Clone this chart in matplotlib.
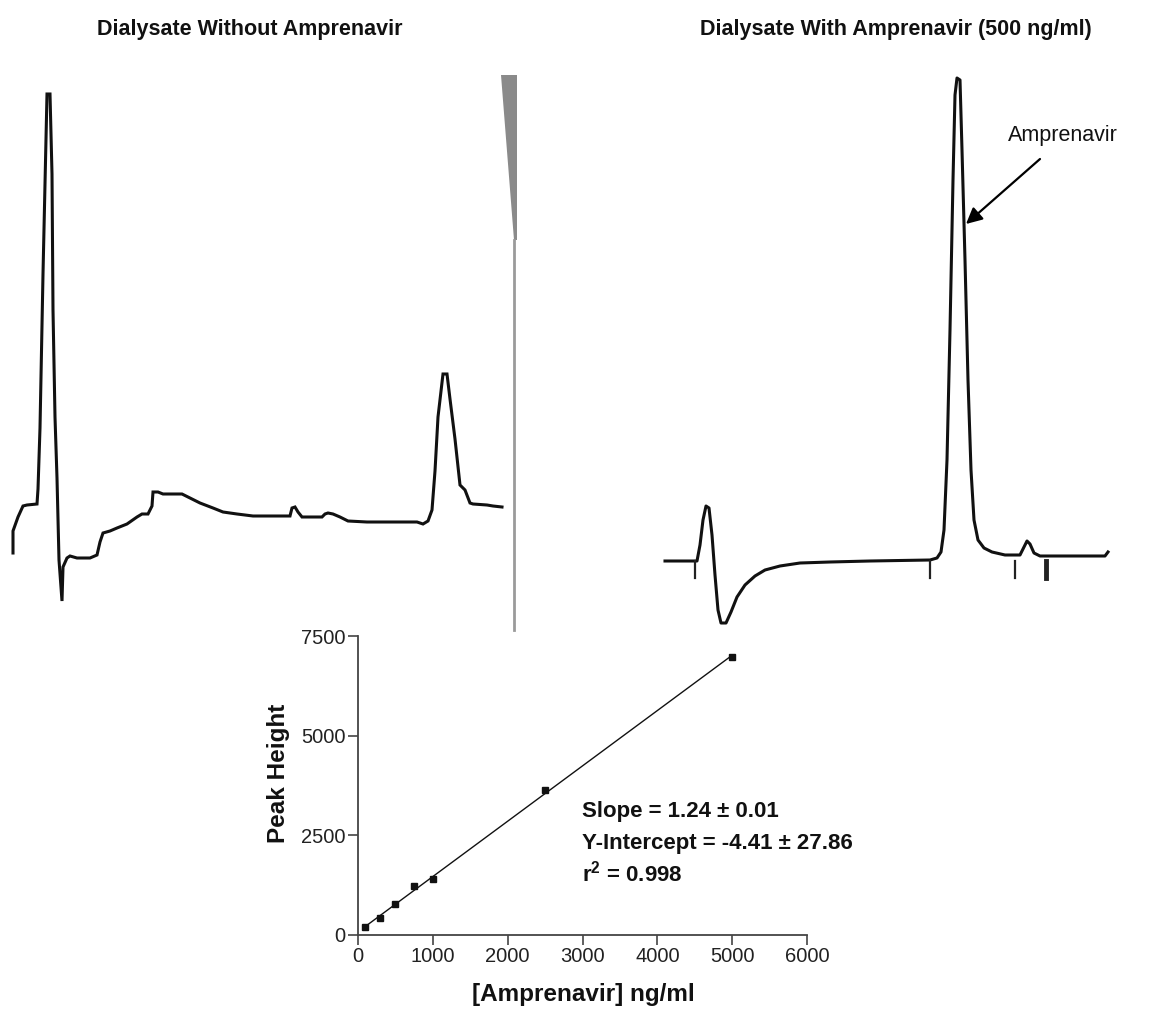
import numpy as np
import matplotlib
matplotlib.use("Agg")
import matplotlib.pyplot as plt

plt.rcParams['font.family'] = ['Liberation Sans', 'DejaVu Sans']
plt.rcParams['mathtext.fontset'] = 'custom'
plt.rcParams['mathtext.rm'] = 'Liberation Sans'
plt.rcParams['mathtext.bf'] = 'Liberation Sans:bold'

# chromatogram without amprenavir (retention position, detector response)
blank_t = [13, 13, 18, 23, 27, 37, 38, 40, 43, 47, 50, 52, 53, 55, 57, 59, 62, 63, 67, 70, 77, 90, 97,
           100, 103, 110, 117, 127, 137, 142, 148, 152, 153, 158, 163, 182, 190, 200, 213, 223, 237, 253,
           290, 292, 295, 298, 302, 322, 325, 328, 333, 340, 348, 367, 417, 423, 428, 432, 435, 438, 443,
           447, 450, 455, 460, 465, 470, 473, 487, 493, 502]
blank_r = [67, 89, 103, 114, 115, 116, 131, 192, 346, 526, 526, 446, 310, 203, 142, 60, 19, 53, 62, 64,
           62, 62, 65, 78, 87, 89, 92, 96, 103, 106, 106, 114, 128, 128, 126, 126, 122, 117, 112, 108,
           106, 104, 104, 112, 113, 108, 103, 103, 106, 107, 106, 103, 99, 98, 98, 96, 99, 110, 149, 203,
           246, 246, 221, 181, 135, 130, 117, 116, 115, 114, 113]

# chromatogram with amprenavir 500 ng/ml
spiked_t = [25, 57, 60, 63, 66, 69, 72, 75, 78, 81, 86, 91, 97, 105, 115, 125, 140, 160, 190, 230, 290,
            297, 301, 304, 307, 310, 313, 315, 317, 320, 322, 325, 328, 331, 334, 338, 344, 352, 365, 380,
            384, 387, 390, 394, 400, 465, 468]
spiked_r = [89, 89, 105, 130, 144, 142, 115, 75, 40, 27, 27, 38, 53, 65, 74, 80, 84, 87, 88, 89, 90,
            92, 98, 120, 190, 320, 470, 555, 572, 570, 500, 390, 270, 180, 130, 110, 102, 98, 95, 95,
            103, 109, 106, 97, 94, 94, 98]
event_marks = [55, 290, 375, 406]

# calibration
conc = [100, 300, 500, 750, 1000, 2500, 5000]
peak_height = [200, 430, 775, 1225, 1400, 3625, 6980]

fig = plt.figure(figsize=(11.64, 10.11), dpi=100)
W, H = 1164.0, 1011.0

def px_axes(x0, y0, x1, y1):
    return fig.add_axes([x0 / W, 1 - y1 / H, (x1 - x0) / W, (y1 - y0) / H])

# left chromatogram
ax1 = px_axes(0, 60, 520, 620)
ax1.set_xlim(0, 520)
ax1.set_ylim(0, 560)
ax1.axis('off')
ax1.plot(blank_t, blank_r, color='#111111', lw=2.2, solid_joinstyle='miter')
# scanner shadow at page edge
ax1.fill([501, 517, 517, 514], [545, 545, 380, 380], color='#8a8a8a', lw=0)
ax1.plot([514, 514], [380, -10], color='#9a9a9a', lw=2, clip_on=False)

fig.text(250 / W, 1 - 30 / H, 'Dialysate Without Amprenavir', ha='center', va='center',
         fontsize=15.5, fontweight='bold', color='#111111')

# right chromatogram
ax2 = px_axes(640, 60, 1164, 650)
ax2.set_xlim(0, 524)
ax2.set_ylim(0, 590)
ax2.axis('off')
ax2.plot(spiked_t, spiked_r, color='#111111', lw=2.2)
for i, t in enumerate(event_marks):
    ax2.plot([t, t], [89, 72], color='#222222', lw=3.5 if i == 3 else 1.6)
ax2.annotate('', xy=(326, 426), xytext=(400, 491),
             arrowprops=dict(arrowstyle='-|>', color='black', lw=1.6, mutation_scale=24,
                             shrinkA=0, shrinkB=0))
ax2.text(368, 515, 'Amprenavir', fontsize=15.5, ha='left', va='center', color='#111111')

fig.text(896 / W, 1 - 30 / H, 'Dialysate With Amprenavir (500 ng/ml)', ha='center', va='center',
         fontsize=15.5, fontweight='bold', color='#111111')

# calibration curve
ax3 = px_axes(358, 636, 807, 935)
ax3.set_xlim(0, 6000)
ax3.set_ylim(0, 7500)
for s in ['top', 'right']:
    ax3.spines[s].set_visible(False)
for s in ['left', 'bottom']:
    ax3.spines[s].set_linewidth(1.3)
    ax3.spines[s].set_color('#444444')
ax3.set_xticks(range(0, 7000, 1000))
ax3.set_yticks([0, 2500, 5000, 7500])
ax3.tick_params(direction='out', length=7, width=1.2, colors='#444444', labelsize=14.5,
                labelcolor='#222222', pad=2)
ax3.patch.set_alpha(0)

slope, icpt = np.polyfit(conc, peak_height, 1)
fit_x = np.array([conc[0], conc[-1]])
ax3.plot(fit_x, slope * fit_x + icpt, color='#111111', lw=1)
ax3.plot(conc, peak_height, 's', color='#111111', ms=5, clip_on=False)

ax3.set_xlabel('[Amprenavir] ng/ml', fontsize=17.5, fontweight='bold', color='#111111')
ax3.set_ylabel('Peak Height', fontsize=17.5, fontweight='bold', color='#111111')
ax3.xaxis.set_label_coords((583 - 358) / 449, -(994 - 935) / 299)
ax3.yaxis.set_label_coords(-(358 - 279) / 449, (935 - 773) / 299)
ax3.xaxis.label.set_va('center')
ax3.yaxis.label.set_va('center')

stats = ['Slope = 1.24 \u00b1 0.01', 'Y-Intercept = -4.41 \u00b1 27.86', r'r$^{\mathbf{2}}$ = 0.998']
for k, line in enumerate(stats):
    fig.text(582 / W, 1 - (812 + 31 * k) / H, line, ha='left', va='center',
             fontsize=16, fontweight='bold', color='#111111')

fig.savefig('out.png', dpi=100)
